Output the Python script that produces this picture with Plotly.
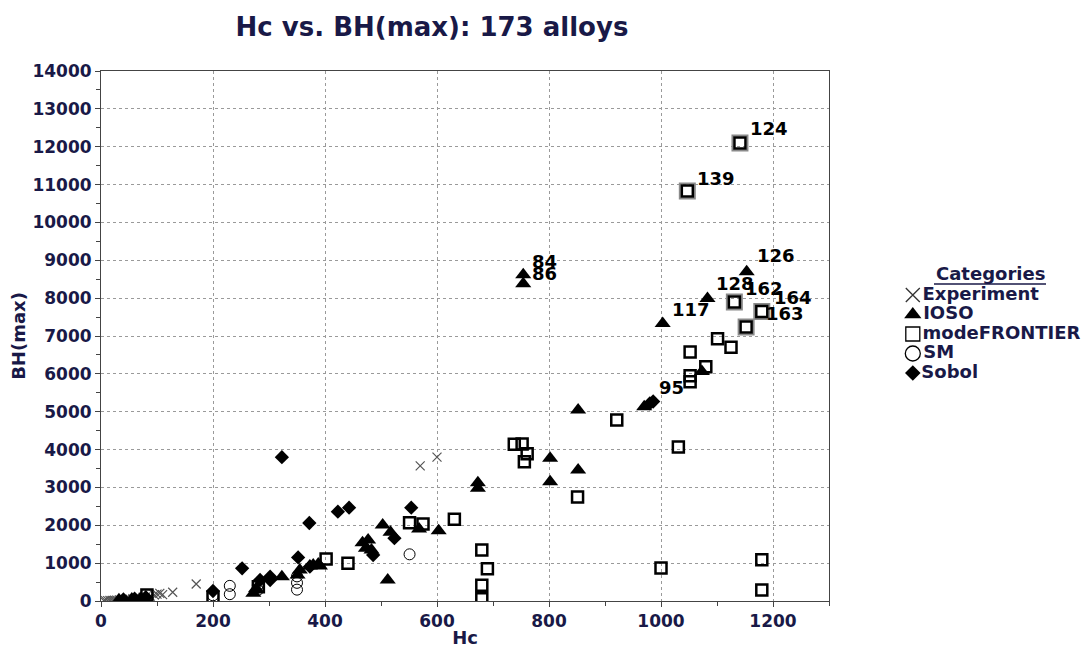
import plotly.graph_objects as go

# ---------------- data ----------------
exp_hc = [5, 8, 12, 16, 20, 24, 28, 33, 38, 42, 47, 52, 57, 62, 68, 75, 80, 88, 95, 100, 105, 110, 128, 170, 570, 600]
exp_bh = [5, 8, 10, 14, 18, 20, 25, 30, 35, 38, 45, 50, 60, 70, 80, 95, 110, 130, 160, 180, 200, 170, 230, 450, 3570, 3800]

ioso_hc = [1153, 1083, 1003, 754, 754, 1073, 970, 852, 802, 852, 802, 673, 673, 603, 568, 503, 517, 467, 477, 473, 483,
           512, 323, 351, 355, 272, 277, 379, 388, 373, 391, 32, 55, 70]
ioso_bh = [8700, 7990, 7330, 8620, 8380, 6060, 5130, 5045, 3770, 3460, 3150, 3125, 2977, 1857, 1900, 2007, 1814, 1540, 1610, 1392, 1347,
           555, 643, 687, 819, 202, 330, 951, 977, 924, 924, 30, 50, 60]

mf_hc = [1141, 1047, 1131, 1152, 1180, 1101, 1125, 1052, 1080, 1052, 1052, 921, 1031, 738, 752, 761, 756, 851, 1000, 1180, 1180,
         680, 690, 680, 680, 551, 575, 631, 402, 441, 281, 82, 200]
mf_bh = [12100, 10830, 7900, 7237, 7650, 6930, 6700, 6577, 6190, 5950, 5793, 4780, 4068, 4139, 4147, 3891, 3679, 2747, 872, 1092, 290,
         1347, 854, 414, 60, 2069, 2034, 2158, 1109, 995, 378, 158, 100]

sm_hc = [200, 230, 230, 280, 280, 350, 350, 350, 551]
sm_bh = [150, 180, 400, 290, 420, 300, 480, 650, 1233]

sobol_hc = [323, 372, 423, 443, 554, 352, 373, 302, 302, 284, 524, 486, 252, 200, 980, 986, 40, 60, 80]
sobol_bh = [3800, 2060, 2360, 2465, 2465, 1150, 906, 643, 555, 555, 1660, 1215, 863, 264, 5220, 5270, 40, 60, 100]

# labelled alloys
lab_text = ["124", "139", "162", "163", "164", "126", "128", "117", "95", "84", "86"]
lab_hc = [1141, 1047, 1131, 1152, 1180, 1153, 1083, 1003, 980, 754, 754]
lab_bh = [12100, 10830, 7900, 7237, 7650, 8700, 7990, 7330, 5220, 8620, 8380]
lab_kind = ["sq", "sq", "sq", "sq", "sq", "tri", "tri", "tri", "dia", "tri", "tri"]

categories = ["Experiment", "IOSO", "modeFRONTIER", "SM", "Sobol"]

# label offsets in pixels (style)
lab_shift = {"124": (8, 14), "139": (8, 13), "162": (9, 13), "163": (18, 14), "164": (10, 14),
             "126": (8, 16), "128": (7, 15), "117": (7, 14), "95": (7, 16), "84": (7, 13), "86": (7, 10)}

NAVY = "#191947"
FONT = "DejaVu Sans"

# page body has an 8px margin: figure is sized so the plot area lands where the reference has it
W, H = 1083, 640
ML, MT, MB = 93, 63, 47
PLOT_W = 728
PAPER_W = W - ML

styles = {
    "Experiment": dict(symbol="x-thin-open", size=9, color="#555555", line=dict(width=1.2, color="#555555")),
    "IOSO": dict(symbol="triangle-up", size=14, color="black", line=dict(width=0)),
    "modeFRONTIER": dict(symbol="square-open", size=11, color="black", line=dict(width=2.5, color="black")),
    "SM": dict(symbol="circle-open", size=11, color="black", line=dict(width=1, color="black")),
    "Sobol": dict(symbol="diamond", size=11, color="black", line=dict(width=0)),
}
legend_styles = {
    "Experiment": dict(symbol="x-thin-open", size=14, color="#333333", line=dict(width=1.3, color="#333333")),
    "IOSO": dict(symbol="triangle-up", size=15, color="black", line=dict(width=0)),
    "modeFRONTIER": dict(symbol="square-open", size=14, color="black", line=dict(width=1.3, color="black")),
    "SM": dict(symbol="circle-open", size=15, color="black", line=dict(width=1.3, color="black")),
    "Sobol": dict(symbol="diamond", size=12, color="black", line=dict(width=0)),
}

fig = go.Figure()

# grey halos behind labelled squares
halo_hc = [h for h, k in zip(lab_hc, lab_kind) if k == "sq"]
halo_bh = [b for b, k in zip(lab_bh, lab_kind) if k == "sq"]
fig.add_trace(go.Scatter(x=halo_hc, y=halo_bh, mode="markers", showlegend=False, hoverinfo="skip",
                         marker=dict(symbol="square-open", size=15, color="#8a8a8a", line=dict(width=2, color="#8a8a8a"))))

series = {
    "Experiment": (exp_hc, exp_bh),
    "IOSO": (ioso_hc, ioso_bh),
    "modeFRONTIER": (mf_hc, mf_bh),
    "SM": (sm_hc, sm_bh),
    "Sobol": (sobol_hc, sobol_bh),
}
for name in categories:
    xs, ys = series[name]
    fig.add_trace(go.Scatter(x=xs, y=ys, mode="markers", name=name, showlegend=False, marker=styles[name]))

# custom legend (drawn on a hidden axis pair in the right margin)
for i, name in enumerate(categories):
    fig.add_trace(go.Scatter(x=[0], y=[len(categories) - 1 - i], xaxis="x2", yaxis="y2", mode="markers+text",
                             text=[name], textposition="middle right", showlegend=False, hoverinfo="skip",
                             textfont=dict(family=FONT, size=18, color=NAVY, weight="bold"),
                             marker=legend_styles[name]))

for t, h, b in zip(lab_text, lab_hc, lab_bh):
    dx, dy = lab_shift[t]
    fig.add_annotation(x=h, y=b, text=t, showarrow=False, xanchor="left", yanchor="middle",
                       xshift=dx, yshift=dy, font=dict(family=FONT, size=18, color="black", weight="bold"))

# legend title
fig.add_annotation(xref="paper", yref="paper", x=(990 - 101) / PAPER_W, y=(601 - 273) / 530, text="Categories",
                   showarrow=False, xanchor="center", yanchor="middle",
                   font=dict(family=FONT, size=18, color=NAVY, weight="bold"))
fig.add_shape(type="line", xref="paper", yref="paper", x0=(934 - 101) / PAPER_W, x1=(1046 - 101) / PAPER_W,
              y0=(601 - 284) / 530, y1=(601 - 284) / 530, line=dict(color=NAVY, width=1.5))

axis_common = dict(
    showline=True, linecolor="#444444", linewidth=1, mirror=True,
    showgrid=True, gridcolor="#9a9a9a", griddash="dot", gridwidth=1,
    ticks="outside", ticklen=5, tickcolor="#444444",
    tickfont=dict(family=FONT, size=17, color=NAVY, weight="bold"),
    zeroline=False, tickformat="d",
)

fig.update_layout(
    width=W, height=H,
    margin=dict(l=ML, r=0, t=MT, b=MB, autoexpand=False),
    paper_bgcolor="white", plot_bgcolor="white",
    title=dict(text="Hc vs. BH(max): 173 alloys", x=(432 - 8) / W, xanchor="center", y=1 - (27 - 8) / H,
               yanchor="middle", font=dict(family=FONT, size=26, color=NAVY, weight="bold")),
    xaxis=dict(domain=[0, PLOT_W / PAPER_W], range=[0, 1300], dtick=200, tick0=0,
               minor=dict(dtick=100, ticks="outside", ticklen=4, tickcolor="#444444", showgrid=False),
               title=dict(text="Hc", standoff=0, font=dict(family=FONT, size=18, color=NAVY, weight="bold")),
               **axis_common),
    yaxis=dict(domain=[0, 1], range=[0, 14000], dtick=1000, tick0=0,
               minor=dict(dtick=500, ticks="outside", ticklen=4, tickcolor="#444444", showgrid=False),
               title=dict(text="BH(max)", standoff=9, font=dict(family=FONT, size=18, color=NAVY, weight="bold")),
               **axis_common),
    xaxis2=dict(domain=[0.8, 1.0], range=[-0.1, 0.9], anchor="y2", visible=False, fixedrange=True),
    yaxis2=dict(domain=[0.4, 0.6], range=[-0.8205, 4.615], anchor="x2", visible=False, fixedrange=True),
    showlegend=False,
)

fig.write_html("out.html")
